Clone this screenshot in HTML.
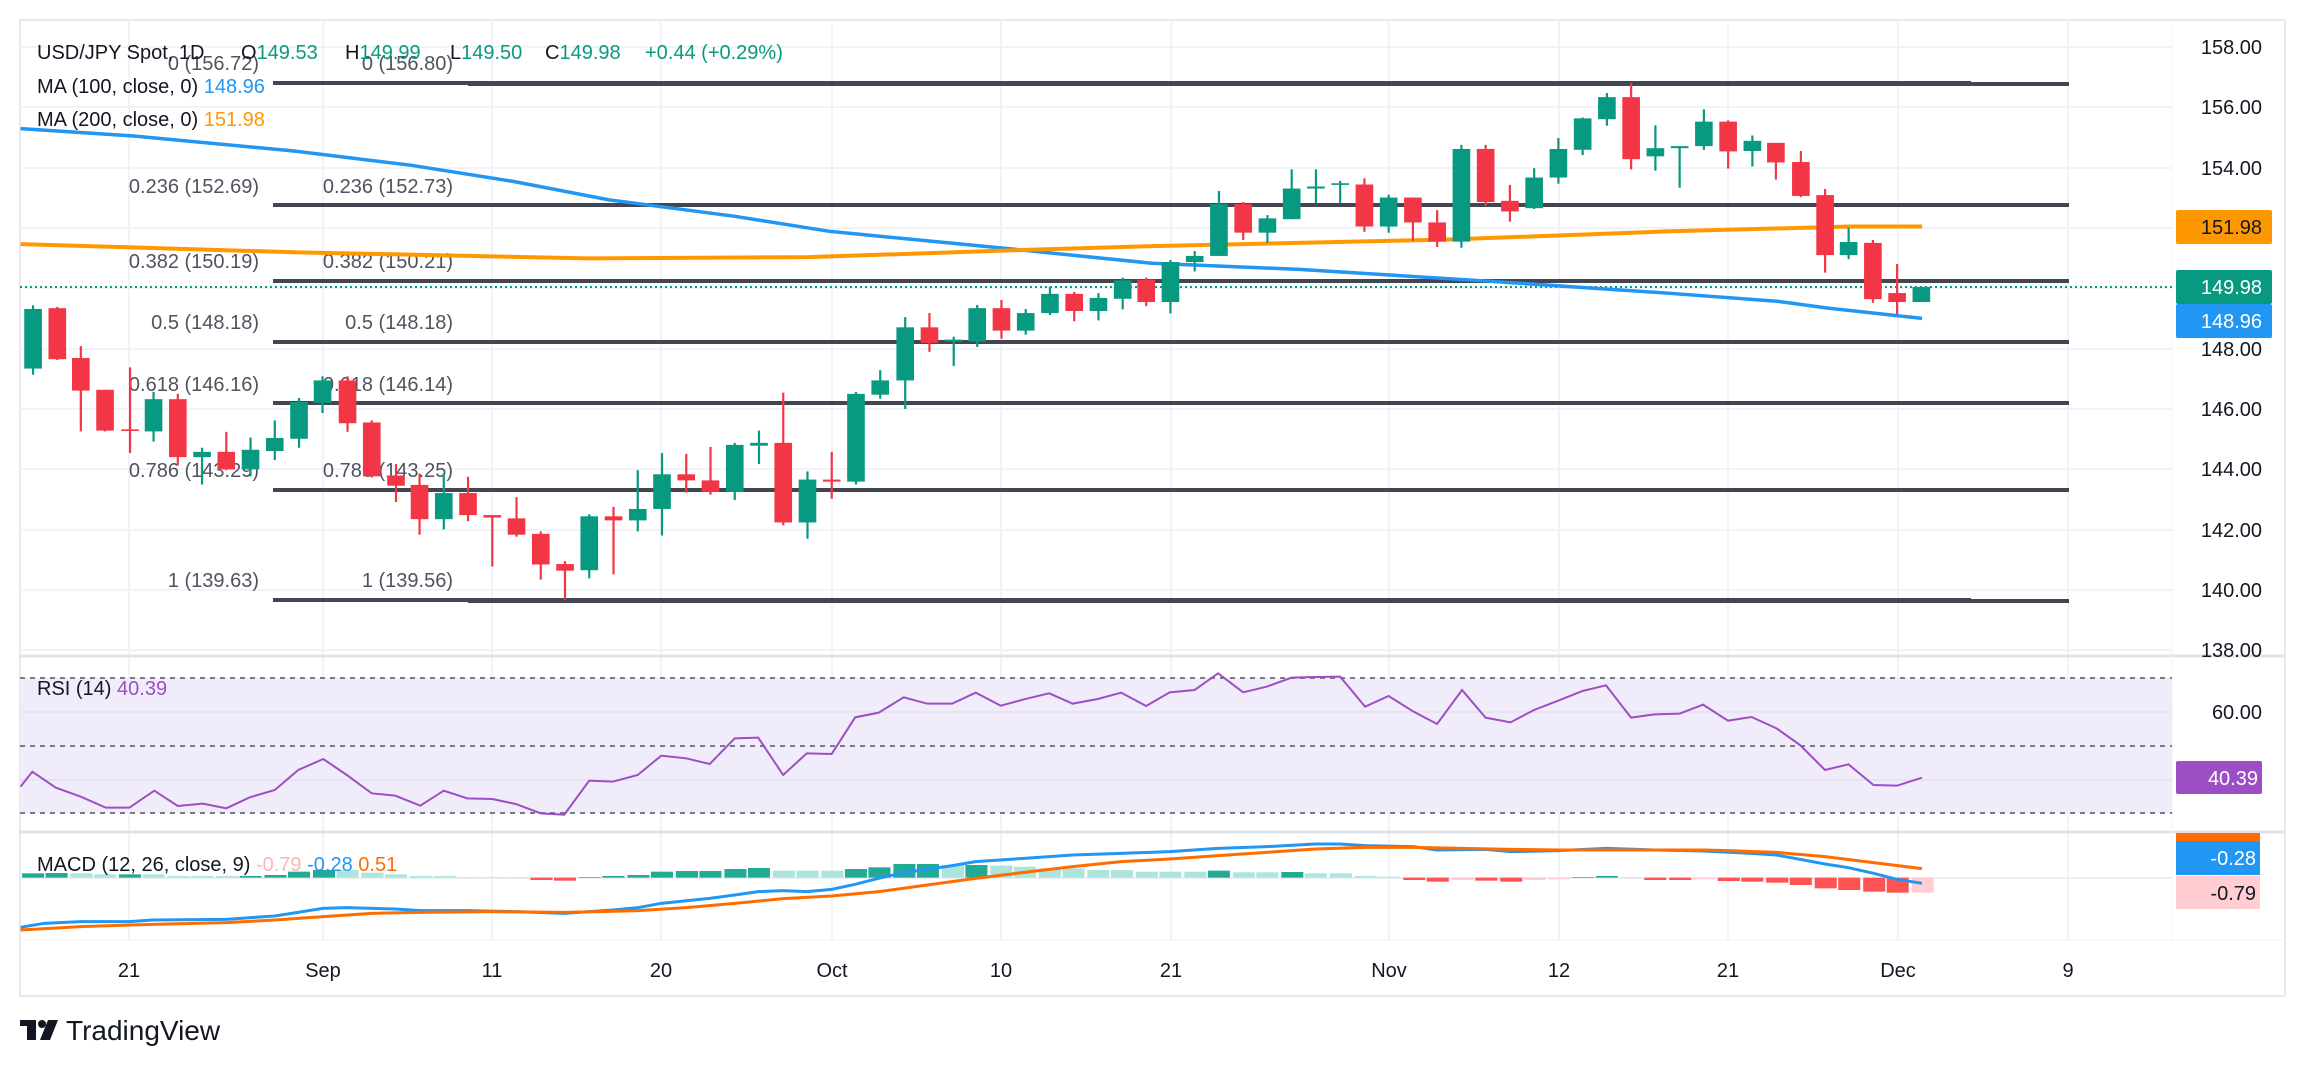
<!DOCTYPE html>
<html><head><meta charset="utf-8"><style>
html,body{margin:0;padding:0;background:#fff;}
svg{display:block;font-family:"Liberation Sans",sans-serif;}
</style></head><body>
<svg width="2304" height="1066" viewBox="0 0 2304 1066" xmlns="http://www.w3.org/2000/svg">
<rect x="0" y="0" width="2304" height="1066" fill="#fff"/>
<!-- frame -->
<rect x="20" y="20" width="2265" height="976" fill="none" stroke="#e6e8ef" stroke-width="2"/>
<!-- horizontal grid main -->
<g stroke="#f0f3fa" stroke-width="2">
<line x1="20" x2="2172" y1="47" y2="47"/><line x1="20" x2="2172" y1="107" y2="107"/><line x1="20" x2="2172" y1="168" y2="168"/><line x1="20" x2="2172" y1="228" y2="228"/><line x1="20" x2="2172" y1="288" y2="288"/><line x1="20" x2="2172" y1="349" y2="349"/><line x1="20" x2="2172" y1="409" y2="409"/><line x1="20" x2="2172" y1="469" y2="469"/><line x1="20" x2="2172" y1="530" y2="530"/><line x1="20" x2="2172" y1="590" y2="590"/><line x1="20" x2="2172" y1="650" y2="650"/>
</g>
<g stroke="#f0f3fa" stroke-width="2">
<line x1="129" x2="129" y1="20" y2="940"/><line x1="323" x2="323" y1="20" y2="940"/><line x1="492" x2="492" y1="20" y2="940"/><line x1="661" x2="661" y1="20" y2="940"/><line x1="832" x2="832" y1="20" y2="940"/><line x1="1001" x2="1001" y1="20" y2="940"/><line x1="1171" x2="1171" y1="20" y2="940"/><line x1="1389" x2="1389" y1="20" y2="940"/><line x1="1559" x2="1559" y1="20" y2="940"/><line x1="1728" x2="1728" y1="20" y2="940"/><line x1="1898" x2="1898" y1="20" y2="940"/><line x1="2068" x2="2068" y1="20" y2="940"/>
</g>
<!-- pane separators -->
<line x1="20" x2="2285" y1="656" y2="656" stroke="#e0e3eb" stroke-width="3"/>
<line x1="20" x2="2285" y1="832" y2="832" stroke="#e0e3eb" stroke-width="3"/>
<line x1="2172" x2="2172" y1="20" y2="940" stroke="#f0f3fa" stroke-width="1"/>

<!-- fib lines -->
<g stroke="#434651" stroke-width="4">
<line x1="273" x2="1971" y1="83" y2="83"/><line x1="468" x2="2069" y1="84" y2="84"/>
<line x1="273" x2="2069" y1="205" y2="205"/>
<line x1="273" x2="2069" y1="281" y2="281"/>
<line x1="273" x2="2069" y1="342" y2="342"/>
<line x1="273" x2="2069" y1="403" y2="403"/>
<line x1="273" x2="2069" y1="490" y2="490"/>
<line x1="273" x2="1971" y1="600" y2="600"/><line x1="468" x2="2069" y1="601" y2="601"/>
</g>
<g font-size="20" fill="#50535e" text-anchor="end">
<text x="259" y="70">0 (156.72)</text><text x="453" y="70">0 (156.80)</text>
<text x="259" y="193">0.236 (152.69)</text><text x="453" y="193">0.236 (152.73)</text>
<text x="259" y="268">0.382 (150.19)</text><text x="453" y="268">0.382 (150.21)</text>
<text x="259" y="329">0.5 (148.18)</text><text x="453" y="329">0.5 (148.18)</text>
<text x="259" y="391">0.618 (146.16)</text><text x="453" y="391">0.618 (146.14)</text>
<text x="259" y="477">0.786 (143.29)</text><text x="453" y="477">0.786 (143.25)</text>
<text x="259" y="587">1 (139.63)</text><text x="453" y="587">1 (139.56)</text>
</g>

<!-- price dotted -->
<line x1="20" x2="2172" y1="287" y2="287" stroke="#089981" stroke-width="2" stroke-dasharray="2 3"/>

<!-- MAs and candles in zoom coords -->
<g transform="scale(0.73475,0.40816)">
<polyline fill="none" stroke="#2196f3" stroke-width="3.5" vector-effect="non-scaling-stroke" points="28,315 180,333 400,370 560,405 700,445 830,490 1000,530 1130,567 1360,607 1568,645 1768,660 2018,688 2268,718 2418,738 2488,755 2616,780"/>
<polyline fill="none" stroke="#ff9800" stroke-width="4" vector-effect="non-scaling-stroke" points="28,598 400,618 800,633 1100,630 1400,612 1568,603 1968,587 2268,567 2518,555 2616,555"/>
<g fill="#089981">
<rect x="43.5" y="748" width="3" height="170"/><rect x="33" y="757" width="24" height="146"/>
<rect x="207.5" y="960" width="3" height="122"/><rect x="197" y="978" width="24" height="79"/>
<rect x="273.5" y="1097" width="3" height="90"/><rect x="263" y="1107" width="24" height="13"/>
<rect x="339.5" y="1072" width="3" height="95"/><rect x="329" y="1102" width="24" height="48"/>
<rect x="372.5" y="1030" width="3" height="97"/><rect x="362" y="1073" width="24" height="32"/>
<rect x="405.5" y="975" width="3" height="122"/><rect x="395" y="985" width="24" height="90"/>
<rect x="437.5" y="922" width="3" height="90"/><rect x="427" y="932" width="24" height="55"/>
<rect x="602.5" y="1160" width="3" height="137"/><rect x="592" y="1208" width="24" height="64"/>
<rect x="800.5" y="1260" width="3" height="157"/><rect x="790" y="1265" width="24" height="132"/>
<rect x="866.5" y="1152" width="3" height="150"/><rect x="856" y="1247" width="24" height="28"/>
<rect x="899.5" y="1110" width="3" height="202"/><rect x="889" y="1162" width="24" height="85"/>
<rect x="998.5" y="1085" width="3" height="140"/><rect x="988" y="1090" width="24" height="115"/>
<rect x="1031.5" y="1055" width="3" height="82"/><rect x="1021" y="1085" width="24" height="7"/>
<rect x="1097.5" y="1155" width="3" height="165"/><rect x="1087" y="1175" width="24" height="105"/>
<rect x="1163.5" y="960" width="3" height="227"/><rect x="1153" y="965" width="24" height="215"/>
<rect x="1196.5" y="907" width="3" height="70"/><rect x="1186" y="932" width="24" height="35"/>
<rect x="1230.5" y="777" width="3" height="225"/><rect x="1220" y="802" width="24" height="130"/>
<rect x="1296.5" y="825" width="3" height="72"/><rect x="1286" y="832" width="24" height="5"/>
<rect x="1328.5" y="747" width="3" height="103"/><rect x="1318" y="755" width="24" height="82"/>
<rect x="1394.5" y="757" width="3" height="63"/><rect x="1384" y="767" width="24" height="43"/>
<rect x="1427.5" y="703" width="3" height="69"/><rect x="1417" y="720" width="24" height="47"/>
<rect x="1493.5" y="718" width="3" height="67"/><rect x="1483" y="730" width="24" height="32"/>
<rect x="1526.5" y="680" width="3" height="78"/><rect x="1516" y="687" width="24" height="45"/>
<rect x="1591.5" y="637" width="3" height="131"/><rect x="1581" y="642" width="24" height="98"/>
<rect x="1624.5" y="615" width="3" height="50"/><rect x="1614" y="627" width="24" height="15"/>
<rect x="1657.5" y="468" width="3" height="159"/><rect x="1647" y="500" width="24" height="127"/>
<rect x="1723.5" y="527" width="3" height="68"/><rect x="1713" y="535" width="24" height="35"/>
<rect x="1756.5" y="415" width="3" height="122"/><rect x="1746" y="462" width="24" height="75"/>
<rect x="1789.5" y="415" width="3" height="83"/><rect x="1779" y="457" width="24" height="5"/>
<rect x="1822.5" y="443" width="3" height="54"/><rect x="1812" y="449" width="24" height="4"/>
<rect x="1888.5" y="477" width="3" height="93"/><rect x="1878" y="484" width="24" height="71"/>
<rect x="1987.5" y="355" width="3" height="252"/><rect x="1977" y="365" width="24" height="227"/>
<rect x="2086.5" y="412" width="3" height="100"/><rect x="2076" y="435" width="24" height="75"/>
<rect x="2119.5" y="338" width="3" height="112"/><rect x="2109" y="365" width="24" height="70"/>
<rect x="2152.5" y="288" width="3" height="92"/><rect x="2142" y="290" width="24" height="77"/>
<rect x="2185.5" y="228" width="3" height="80"/><rect x="2175" y="238" width="24" height="54"/>
<rect x="2251.5" y="307" width="3" height="111"/><rect x="2241" y="363" width="24" height="20"/>
<rect x="2284.5" y="358" width="3" height="102"/><rect x="2274" y="358" width="24" height="5"/>
<rect x="2317.5" y="268" width="3" height="99"/><rect x="2307" y="298" width="24" height="60"/>
<rect x="2383.5" y="332" width="3" height="76"/><rect x="2373" y="345" width="24" height="25"/>
<rect x="2514.5" y="558" width="3" height="77"/><rect x="2504" y="593" width="24" height="32"/>
<rect x="2603" y="703" width="24" height="37"/>
</g>
<g fill="#f23645">
<rect x="76.5" y="752" width="3" height="130"/><rect x="66" y="755" width="24" height="125"/>
<rect x="108.5" y="848" width="3" height="209"/><rect x="98" y="877" width="24" height="80"/>
<rect x="141.5" y="955" width="3" height="102"/><rect x="131" y="955" width="24" height="100"/>
<rect x="175.5" y="900" width="3" height="210"/><rect x="165" y="1052" width="24" height="4"/>
<rect x="240.5" y="965" width="3" height="175"/><rect x="230" y="978" width="24" height="142"/>
<rect x="306.5" y="1058" width="3" height="94"/><rect x="296" y="1107" width="24" height="43"/>
<rect x="471.5" y="922" width="3" height="136"/><rect x="461" y="932" width="24" height="105"/>
<rect x="504.5" y="1030" width="3" height="140"/><rect x="494" y="1035" width="24" height="132"/>
<rect x="537.5" y="1137" width="3" height="93"/><rect x="527" y="1165" width="24" height="25"/>
<rect x="569.5" y="1160" width="3" height="150"/><rect x="559" y="1188" width="24" height="84"/>
<rect x="635.5" y="1168" width="3" height="109"/><rect x="625" y="1208" width="24" height="54"/>
<rect x="668.5" y="1262" width="3" height="126"/><rect x="658" y="1262" width="24" height="6"/>
<rect x="701.5" y="1218" width="3" height="97"/><rect x="691" y="1270" width="24" height="40"/>
<rect x="734.5" y="1302" width="3" height="118"/><rect x="724" y="1308" width="24" height="75"/>
<rect x="767.5" y="1375" width="3" height="95"/><rect x="757" y="1382" width="24" height="16"/>
<rect x="833.5" y="1242" width="3" height="165"/><rect x="823" y="1265" width="24" height="10"/>
<rect x="932.5" y="1112" width="3" height="95"/><rect x="922" y="1162" width="24" height="15"/>
<rect x="965.5" y="1095" width="3" height="117"/><rect x="955" y="1177" width="24" height="28"/>
<rect x="1064.5" y="962" width="3" height="325"/><rect x="1054" y="1085" width="24" height="195"/>
<rect x="1130.5" y="1107" width="3" height="115"/><rect x="1120" y="1175" width="24" height="5"/>
<rect x="1263.5" y="767" width="3" height="95"/><rect x="1253" y="802" width="24" height="38"/>
<rect x="1361.5" y="735" width="3" height="95"/><rect x="1351" y="755" width="24" height="55"/>
<rect x="1460.5" y="715" width="3" height="72"/><rect x="1450" y="720" width="24" height="42"/>
<rect x="1558.5" y="680" width="3" height="70"/><rect x="1548" y="685" width="24" height="55"/>
<rect x="1690.5" y="495" width="3" height="93"/><rect x="1680" y="500" width="24" height="70"/>
<rect x="1855.5" y="437" width="3" height="131"/><rect x="1845" y="452" width="24" height="103"/>
<rect x="1921.5" y="484" width="3" height="106"/><rect x="1911" y="484" width="24" height="61"/>
<rect x="1954.5" y="515" width="3" height="90"/><rect x="1944" y="545" width="24" height="47"/>
<rect x="2020.5" y="355" width="3" height="150"/><rect x="2010" y="365" width="24" height="130"/>
<rect x="2053.5" y="453" width="3" height="90"/><rect x="2043" y="492" width="24" height="26"/>
<rect x="2218.5" y="203" width="3" height="212"/><rect x="2208" y="238" width="24" height="152"/>
<rect x="2350.5" y="295" width="3" height="118"/><rect x="2340" y="298" width="24" height="73"/>
<rect x="2415.5" y="350" width="3" height="90"/><rect x="2405" y="350" width="24" height="48"/>
<rect x="2449.5" y="370" width="3" height="113"/><rect x="2439" y="397" width="24" height="83"/>
<rect x="2482.5" y="463" width="3" height="205"/><rect x="2472" y="478" width="24" height="147"/>
<rect x="2547.5" y="588" width="3" height="154"/><rect x="2537" y="595" width="24" height="138"/>
<rect x="2580.5" y="647" width="3" height="123"/><rect x="2570" y="718" width="24" height="22"/>
</g>
</g>

<!-- header legend -->
<g font-size="20" fill="#131722">
<text x="37" y="59">USD/JPY Spot, 1D</text>
<text x="241" y="59">O<tspan fill="#089981">149.53</tspan></text>
<text x="345" y="59">H<tspan fill="#089981">149.99</tspan></text>
<text x="450" y="59">L<tspan fill="#089981">149.50</tspan></text>
<text x="545" y="59">C<tspan fill="#089981">149.98</tspan></text>
<text x="645" y="59" fill="#089981">+0.44 (+0.29%)</text>
<text x="37" y="93">MA (100, close, 0) <tspan fill="#2196f3">148.96</tspan></text>
<text x="37" y="126">MA (200, close, 0) <tspan fill="#ff9800">151.98</tspan></text>
</g>

<!-- price axis -->
<g font-size="20" fill="#131722" text-anchor="end">
<text x="2262" y="54">158.00</text><text x="2262" y="114">156.00</text><text x="2262" y="175">154.00</text>
<text x="2262" y="356">148.00</text><text x="2262" y="416">146.00</text><text x="2262" y="476">144.00</text>
<text x="2262" y="537">142.00</text><text x="2262" y="597">140.00</text><text x="2262" y="657">138.00</text>
</g>
<rect x="2176" y="210" width="96" height="34" rx="2" fill="#ff9800"/>
<text x="2262" y="234" font-size="20" fill="#131722" text-anchor="end">151.98</text>
<rect x="2176" y="270" width="96" height="34" rx="2" fill="#089981"/>
<text x="2262" y="294" font-size="20" fill="#fff" text-anchor="end">149.98</text>
<rect x="2176" y="304" width="96" height="34" rx="2" fill="#2196f3"/>
<text x="2262" y="328" font-size="20" fill="#fff" text-anchor="end">148.96</text>

<!-- RSI pane -->
<rect x="20" y="678" width="2152" height="135" fill="#f1ecf9"/>
<g stroke="#787b86" stroke-width="2" stroke-dasharray="5 5">
<line x1="20" x2="2172" y1="678" y2="678"/><line x1="20" x2="2172" y1="746" y2="746"/><line x1="20" x2="2172" y1="813" y2="813"/>
</g>
<line x1="20" x2="2172" y1="712" y2="712" stroke="#e8e3f2" stroke-width="2"/>
<line x1="20" x2="2172" y1="780" y2="780" stroke="#e8e3f2" stroke-width="2"/>
<g transform="translate(0,640) scale(1.4694,0.33333)">
<polyline fill="none" stroke="#9c4fc4" stroke-width="2" vector-effect="non-scaling-stroke" points="14,440 22,395 38,443 55,470 72,503 88,503 105,452 121,498 138,491 154,505 170,472 187,450 203,390 220,357 236,405 253,460 269,467 286,497 302,452 318,475 335,477 351,492 368,520 384,524 401,422 417,425 434,405 450,347 467,355 483,372 500,295 516,293 533,405 549,340 566,342 582,232 598,218 615,172 631,191 648,191 664,158 681,197 697,178 714,160 730,191 747,177 763,158 780,198 796,157 813,150 829,100 846,157 862,140 879,113 895,111 912,110 929,200 945,168 962,215 978,252 995,150 1011,233 1028,247 1044,210 1061,181 1077,153 1093,136 1110,233 1126,223 1143,221 1159,194 1176,242 1192,231 1209,265 1225,315 1242,390 1258,373 1275,435 1291,437 1308,413"/>
</g>
<text x="37" y="695" font-size="20" fill="#131722">RSI (14) <tspan fill="#9c4fc4">40.39</tspan></text>
<text x="2262" y="719" font-size="20" fill="#131722" text-anchor="end">60.00</text>
<rect x="2176" y="761" width="86" height="33" rx="2" fill="#9c4fc4"/>
<text x="2258" y="785" font-size="20" fill="#fff" text-anchor="end">40.39</text>

<!-- MACD pane -->
<line x1="20" x2="2172" y1="878" y2="878" stroke="#eceef3" stroke-width="2"/>
<g transform="translate(0,640) scale(1.4694,0.33333)">
<g fill="#22ab94">
<rect x="15" y="700" width="15" height="13"/><rect x="31" y="699" width="15" height="14"/><rect x="81" y="703" width="15" height="10"/><rect x="163" y="708" width="15" height="5"/><rect x="180" y="705" width="15" height="8"/><rect x="196" y="695" width="15" height="18"/><rect x="213" y="690" width="15" height="23"/><rect x="394" y="711" width="15" height="2"/><rect x="410" y="708" width="15" height="5"/><rect x="427" y="705" width="15" height="8"/><rect x="443" y="695" width="15" height="18"/><rect x="460" y="693" width="15" height="20"/><rect x="476" y="693" width="15" height="20"/><rect x="493" y="687" width="15" height="26"/><rect x="509" y="684" width="15" height="29"/><rect x="575" y="687" width="15" height="26"/><rect x="591" y="682" width="15" height="31"/><rect x="608" y="672" width="15" height="41"/><rect x="624" y="672" width="15" height="41"/><rect x="657" y="675" width="15" height="38"/><rect x="822" y="692" width="15" height="21"/><rect x="872" y="696" width="15" height="17"/><rect x="1070" y="711" width="15" height="2"/><rect x="1086" y="708" width="15" height="5"/>
</g>
<g fill="#ace5dc">
<rect x="48" y="700" width="15" height="13"/><rect x="64" y="703" width="15" height="10"/><rect x="97" y="703" width="15" height="10"/><rect x="114" y="708" width="15" height="5"/><rect x="130" y="708" width="15" height="5"/><rect x="147" y="708" width="15" height="5"/><rect x="229" y="690" width="15" height="23"/><rect x="246" y="698" width="15" height="15"/><rect x="262" y="703" width="15" height="10"/><rect x="279" y="708" width="15" height="5"/><rect x="295" y="708" width="15" height="5"/><rect x="311" y="711" width="15" height="2"/><rect x="328" y="711" width="15" height="2"/><rect x="344" y="711" width="15" height="2"/><rect x="526" y="692" width="15" height="21"/><rect x="542" y="692" width="15" height="21"/><rect x="559" y="692" width="15" height="21"/><rect x="641" y="675" width="15" height="38"/><rect x="674" y="677" width="15" height="36"/><rect x="690" y="680" width="15" height="33"/><rect x="707" y="685" width="15" height="28"/><rect x="723" y="685" width="15" height="28"/><rect x="740" y="690" width="15" height="23"/><rect x="756" y="690" width="15" height="23"/><rect x="773" y="695" width="15" height="18"/><rect x="789" y="695" width="15" height="18"/><rect x="806" y="695" width="15" height="18"/><rect x="839" y="697" width="15" height="16"/><rect x="855" y="697" width="15" height="16"/><rect x="888" y="700" width="15" height="13"/><rect x="905" y="700" width="15" height="13"/><rect x="922" y="708" width="15" height="5"/><rect x="938" y="710" width="15" height="3"/><rect x="1103" y="711" width="15" height="2"/>
</g>
<g fill="#ff5252">
<rect x="361" y="713" width="15" height="7"/><rect x="377" y="713" width="15" height="9"/><rect x="955" y="713" width="15" height="7"/><rect x="971" y="713" width="15" height="12"/><rect x="1004" y="713" width="15" height="9"/><rect x="1021" y="713" width="15" height="12"/><rect x="1119" y="713" width="15" height="7"/><rect x="1136" y="713" width="15" height="7"/><rect x="1169" y="713" width="15" height="10"/><rect x="1185" y="713" width="15" height="12"/><rect x="1202" y="713" width="15" height="15"/><rect x="1218" y="713" width="15" height="22"/><rect x="1235" y="713" width="15" height="32"/><rect x="1251" y="713" width="15" height="37"/><rect x="1268" y="713" width="15" height="42"/><rect x="1284" y="713" width="15" height="45"/>
</g>
<g fill="#ffcdd2">
<rect x="988" y="713" width="15" height="7"/><rect x="1037" y="713" width="15" height="7"/><rect x="1054" y="713" width="15" height="5"/><rect x="1152" y="713" width="15" height="5"/><rect x="1301" y="713" width="15" height="45"/>
</g>
<polyline fill="none" stroke="#2196f3" stroke-width="3" vector-effect="non-scaling-stroke" points="14,862 30,850 55,845 88,845 104,840 154,838 187,828 220,805 236,803 269,807 286,812 318,812 351,815 384,820 417,810 434,803 450,790 483,775 500,765 516,755 533,752 549,755 566,748 582,733 598,715 615,698 631,688 648,677 664,665 697,655 730,645 763,640 796,635 829,625 862,620 895,612 912,612 929,617 962,620 978,630 1011,628 1028,635 1061,632 1093,625 1126,630 1159,633 1192,640 1209,645 1242,672 1258,683 1275,700 1291,718 1308,730"/>
<polyline fill="none" stroke="#ff6d00" stroke-width="3" vector-effect="non-scaling-stroke" points="14,870 55,860 104,853 154,848 187,840 220,830 253,820 286,817 335,815 384,817 434,812 467,803 500,790 533,776 566,768 598,755 631,735 664,715 697,697 730,680 763,665 796,657 829,647 862,637 895,627 929,622 962,622 995,625 1028,628 1061,630 1093,630 1126,630 1159,630 1176,632 1209,637 1242,650 1275,668 1308,686"/>
</g>
<text x="37" y="871" font-size="20" fill="#131722">MACD (12, 26, close, 9) <tspan fill="#ffb4b4">-0.79</tspan> <tspan fill="#2196f3">-0.28</tspan> <tspan fill="#ff6d00">0.51</tspan></text>
<rect x="2176" y="833" width="84" height="8" fill="#ff6d00"/>
<rect x="2176" y="841" width="84" height="34" fill="#2196f3"/>
<text x="2256" y="865" font-size="20" fill="#fff" text-anchor="end">-0.28</text>
<rect x="2176" y="876" width="84" height="33" fill="#ffcdd2"/>
<text x="2256" y="900" font-size="20" fill="#131722" text-anchor="end">-0.79</text>

<!-- time axis -->
<line x1="20" x2="2285" y1="940" y2="940" stroke="#f0f3fa" stroke-width="1"/>
<g font-size="20" fill="#131722" text-anchor="middle">
<text x="129" y="977">21</text><text x="323" y="977">Sep</text><text x="492" y="977">11</text><text x="661" y="977">20</text><text x="832" y="977">Oct</text><text x="1001" y="977">10</text><text x="1171" y="977">21</text><text x="1389" y="977">Nov</text><text x="1559" y="977">12</text><text x="1728" y="977">21</text><text x="1898" y="977">Dec</text><text x="2068" y="977">9</text>
</g>

<!-- logo -->
<g fill="#131722">
<rect x="20" y="1020" width="16" height="6"/><rect x="27" y="1020" width="9" height="20"/>
<circle cx="42" cy="1024" r="4"/>
<polygon points="48,1020 58,1020 50,1040 40,1040"/>
</g>
<text x="66" y="1040" font-size="28" fill="#131722">TradingView</text>
</svg>
</body></html>
